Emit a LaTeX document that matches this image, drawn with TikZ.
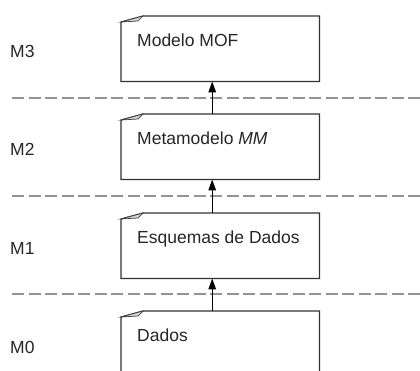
\documentclass[tikz,border=0pt]{standalone}
\usepackage{fontspec}
\setmainfont{Liberation Sans}
\usetikzlibrary{arrows.meta}
\begin{document}
\begin{tikzpicture}[x=1pt,y=-1pt,
  txt/.style={font=\fontsize{17.5}{20}\selectfont, inner sep=0pt, anchor=base west, text=black!85},
  boxn/.style={minimum width=198pt, minimum height=65pt, inner sep=0pt, anchor=north west},
  outl/.style={draw=black!80, line width=1.2pt, fill=white},
  flap/.style={draw=black!75, line width=0.7pt, fill=gray!35},
  sep/.style={draw=gray!85, line width=2pt, dash pattern=on 12pt off 4.5pt},
  arr/.style={-{Triangle[length=11pt,width=7.5pt]}, line width=1.3pt, draw=black}]
\useasboundingbox (0,0) rectangle (420,370);
% separators
\foreach \i/\y in {1/98,2/196,3/294}{
  \coordinate (sa\i) at (12,\y);
  \coordinate (sb\i) at (421,\y);
  \draw[sep] (sa\i) -- (sb\i);
}
% boxes
\foreach \n/\t in {b3/16,b2/114,b1/213,b0/311}{
  \node[boxn] (\n) at (121,\t) {};
  \draw[outl] ([yshift=-6pt]\n.north west) -- ([xshift=22pt]\n.north west) -- (\n.north east) -- (\n.south east) -- (\n.south west) -- cycle;
  \draw[flap] ([yshift=-6pt]\n.north west) -- ([xshift=22pt]\n.north west) -- ([xshift=17pt,yshift=-5pt]\n.north west) -- cycle;
}
% box texts
\node[txt] (t3) at (137,46) {Modelo MOF};
\node[txt] (t2) at (137,144) {Metamodelo \textit{MM}};
\node[txt] (t1) at (137,243) {Esquemas de Dados};
\node[txt] (t0) at (137,341) {Dados};
% level labels
\node[txt] (l3) at (10,57) {M3};
\node[txt] (l2) at (10,155) {M2};
\node[txt] (l1) at (10,254) {M1};
\node[txt] (l0) at (10,353) {M0};
% arrows
\draw[arr] ([xshift=-8pt]b2.north) -- ([xshift=-8pt]b3.south);
\draw[arr] ([xshift=-8pt]b1.north) -- ([xshift=-8pt]b2.south);
\draw[arr] ([xshift=-8pt]b0.north) -- ([xshift=-8pt]b1.south);
\end{tikzpicture}
\end{document}
